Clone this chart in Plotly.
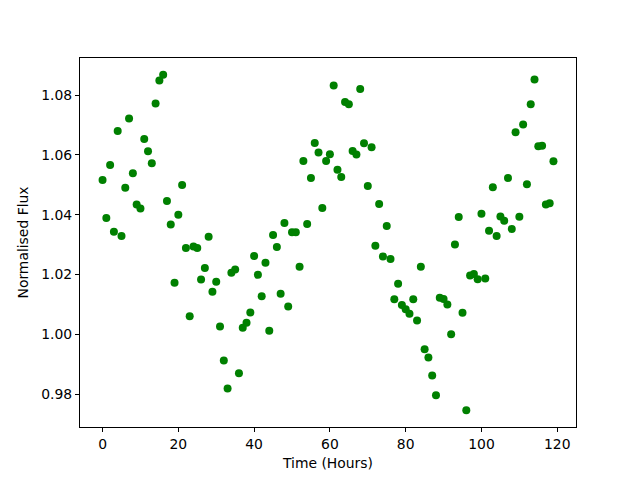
import plotly.graph_objects as go

hours = list(range(120))
flux = [
    1.0516, 1.0389, 1.0566, 1.0343, 1.0680, 1.0329, 1.0490, 1.0722, 1.0539, 1.0434,
    1.0421, 1.0653, 1.0612, 1.0572, 1.0772, 1.0849, 1.0868, 1.0446, 1.0367, 1.0172,
    1.0400, 1.0499, 1.0289, 1.0060, 1.0294, 1.0289, 1.0183, 1.0222, 1.0326, 1.0142,
    1.0176, 1.0026, 0.9912, 0.9819, 1.0206, 1.0217, 0.9870, 1.0022, 1.0039, 1.0073,
    1.0262, 1.0199, 1.0127, 1.0239, 1.0012, 1.0332, 1.0292, 1.0136, 1.0372, 1.0093,
    1.0341, 1.0341, 1.0226, 1.0580, 1.0369, 1.0523, 1.0640, 1.0608, 1.0422, 1.0580,
    1.0602, 1.0832, 1.0550, 1.0526, 1.0777, 1.0769, 1.0613, 1.0601, 1.0820, 1.0639,
    1.0496, 1.0626, 1.0296, 1.0436, 1.0260, 1.0362, 1.0252, 1.0117, 1.0169, 1.0098,
    1.0084, 1.0069, 1.0117, 1.0046, 1.0226, 0.9950, 0.9922, 0.9862, 0.9796, 1.0122,
    1.0118, 1.0100, 1.0000, 1.0300, 1.0392, 1.0072, 0.9746, 1.0197, 1.0202, 1.0184,
    1.0403, 1.0187, 1.0346, 1.0492, 1.0329, 1.0394, 1.0380, 1.0523, 1.0352, 1.0676,
    1.0393, 1.0702, 1.0502, 1.0769, 1.0852, 1.0629, 1.0631, 1.0434, 1.0438, 1.0579,
]
x_ticks = [0, 20, 40, 60, 80, 100, 120]
y_ticks = [0.98, 1.00, 1.02, 1.04, 1.06, 1.08]

fig = go.Figure(go.Scatter(
    x=hours, y=flux, mode="markers",
    marker=dict(color="#008000", size=8, line=dict(width=0)),
))

axis_common = dict(
    showgrid=False, zeroline=False, showline=True, linecolor="black", linewidth=1,
    mirror=True, ticks="outside", ticklen=4, tickcolor="black", tickwidth=1,
    tickfont=dict(family="DejaVu Sans", size=13.9, color="black"),
    automargin=False,
)
title_font = dict(family="DejaVu Sans", size=13.9, color="black")
fig.update_layout(
    width=640, height=480,
    margin=dict(l=72, r=72, t=50, b=61),
    paper_bgcolor="white", plot_bgcolor="white",
    showlegend=False,
    font=dict(family="DejaVu Sans", size=13.9, color="black"),
    xaxis=dict(range=[-5.95, 124.95], tickvals=x_ticks,
               title=dict(text="Time (Hours)", standoff=7, font=title_font), **axis_common),
    yaxis=dict(range=[0.96899, 1.09241], tickvals=y_ticks, tickformat=".2f",
               title=dict(text="Normalised Flux", standoff=9, font=title_font), **axis_common),
)
fig.write_html("out.html")
